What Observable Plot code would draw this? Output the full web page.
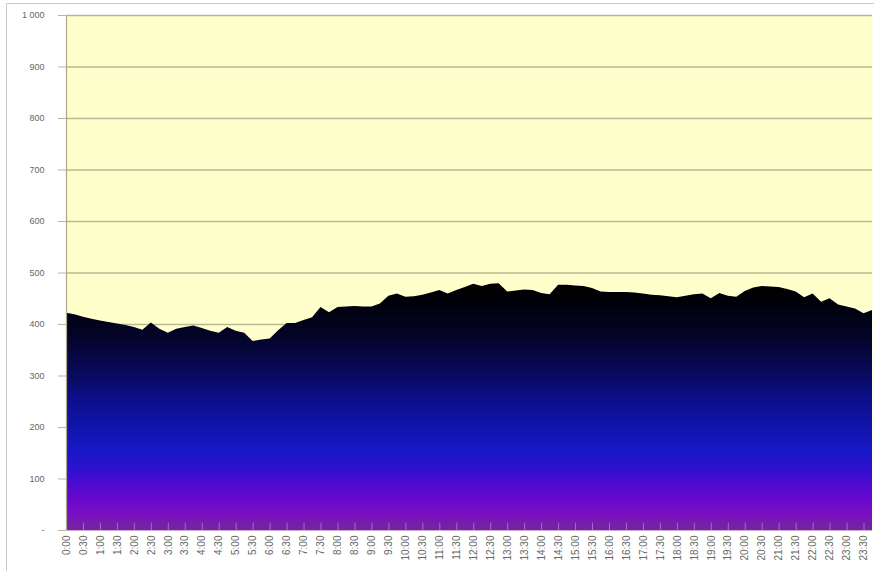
<!DOCTYPE html>
<html>
<head>
<meta charset="utf-8">
<script src="https://cdn.jsdelivr.net/npm/d3@7"></script>
<script src="https://cdn.jsdelivr.net/npm/@observablehq/plot@0.6"></script>
<style>
  body { margin: 0; background: #fff; }
  #chart { position: absolute; left: 0; top: 0; }
  #frame { position: absolute; left: 6px; top: 3px; width: 880px; height: 580px;
           border-left: 1px solid #c8c8d2; border-top: 1px solid #c8c8d2; pointer-events: none; }
</style>
</head>
<body>
<div id="chart"></div>
<div id="frame"></div>
<script>
const times = [
  "0:00","0:15","0:30","0:45","1:00","1:15","1:30","1:45","2:00","2:15","2:30","2:45",
  "3:00","3:15","3:30","3:45","4:00","4:15","4:30","4:45","5:00","5:15","5:30","5:45",
  "6:00","6:15","6:30","6:45","7:00","7:15","7:30","7:45","8:00","8:15","8:30","8:45",
  "9:00","9:15","9:30","9:45","10:00","10:15","10:30","10:45","11:00","11:15","11:30","11:45",
  "12:00","12:15","12:30","12:45","13:00","13:15","13:30","13:45","14:00","14:15","14:30","14:45",
  "15:00","15:15","15:30","15:45","16:00","16:15","16:30","16:45","17:00","17:15","17:30","17:45",
  "18:00","18:15","18:30","18:45","19:00","19:15","19:30","19:45","20:00","20:15","20:30","20:45",
  "21:00","21:15","21:30","21:45","22:00","22:15","22:30","22:45","23:00","23:15","23:30","23:45"
];

const values = [
  422, 419, 414, 410, 407, 404, 401, 398, 394, 389, 403, 391,
  383, 391, 394, 397, 392, 387, 383, 394, 387, 383, 367, 370,
  372, 388, 402, 402, 408, 413, 433, 423, 433, 434, 435, 434,
  434, 440, 455, 459, 453, 454, 457, 461, 466, 459, 466, 472,
  478, 474, 478, 479, 463, 465, 467, 466, 460, 458, 476, 476,
  475, 474, 470, 463, 462, 462, 462, 461, 459, 457, 456, 454,
  452, 455, 458, 459, 450, 460, 455, 453, 464, 471, 474, 473,
  472, 468, 463, 452, 459, 443, 450, 438, 434, 430, 421, 427
];

const xTickLabels = [
  "0:00","0:30","1:00","1:30","2:00","2:30","3:00","3:30","4:00","4:30","5:00","5:30",
  "6:00","6:30","7:00","7:30","8:00","8:30","9:00","9:30","10:00","10:30","11:00","11:30",
  "12:00","12:30","13:00","13:30","14:00","14:30","15:00","15:30","16:00","16:30","17:00","17:30",
  "18:00","18:30","19:00","19:30","20:00","20:30","21:00","21:30","22:00","22:30","23:00","23:30"
];

const yTicks = [0, 100, 200, 300, 400, 500, 600, 700, 800, 900, 1000];
const yTickLabels = ["-", "100", "200", "300", "400", "500", "600", "700", "800", "900", "1 000"];

const data = times.map((t, i) => ({ t, v: values[i] }));

const svg = Plot.plot({
  width: 874,
  height: 571,
  marginLeft: 66,
  marginRight: 2,
  marginTop: 15,
  marginBottom: 41,
  x: { type: "point", domain: times, padding: 0 },
  y: { domain: [0, 1000] },
  style: { fontFamily: "'Liberation Sans', Arial, sans-serif", fontSize: "9px", color: "#555", background: "transparent" },
  marks: [
    Plot.frame({ fill: "#FFFFCC", stroke: null }),
    Plot.ruleY(yTicks.slice(1), { stroke: "#b8b894", strokeWidth: 1.3 }),
    Plot.areaY(data, { x: "t", y: "v", fill: "url(#areaGrad)" }),
    Plot.ruleX(xTickLabels, { x: d => d, y1: 0, y2: 14, stroke: "#d8a8e0", strokeOpacity: 0.55 }),
    Plot.ruleY([0], { stroke: "#d6a8d8", strokeWidth: 1 }),
    Plot.ruleX([times[0]], { stroke: "#aaa88e", strokeWidth: 1.2 }),
    Plot.axisY({
      ticks: yTicks,
      tickFormat: d => yTickLabels[yTicks.indexOf(d)],
      tickSize: 8,
      tickPadding: 14,
      stroke: "#b8b894",
      fill: "#666",
      fontSize: 9,
      label: null
    }),
    Plot.axisX({
      ticks: xTickLabels,
      tickRotate: -90,
      tickSize: 0,
      tickPadding: 5,
      fill: "#666",
      fontSize: 10,
      label: null
    })
  ]
});

const NS = "http://www.w3.org/2000/svg";
const defs = document.createElementNS(NS, "defs");
const grad = document.createElementNS(NS, "linearGradient");
grad.setAttribute("id", "areaGrad");
grad.setAttribute("x1", "0"); grad.setAttribute("y1", "0");
grad.setAttribute("x2", "0"); grad.setAttribute("y2", "1");
[
  [0, "#000000"], [0.08, "#00000a"], [0.23, "#04042c"], [0.39, "#090b66"],
  [0.47, "#0b0f8c"], [0.63, "#1416b8"], [0.68, "#1818c8"], [0.76, "#3010d0"],
  [0.80, "#4a0ad0"], [0.88, "#6a08cc"], [0.94, "#7a10c0"], [1, "#70289a"]
].forEach(([o, c]) => {
  const s = document.createElementNS(NS, "stop");
  s.setAttribute("offset", o);
  s.setAttribute("stop-color", c);
  grad.appendChild(s);
});
defs.appendChild(grad);
svg.insertBefore(defs, svg.firstChild);

document.getElementById("chart").appendChild(svg);
</script>
</body>
</html>
